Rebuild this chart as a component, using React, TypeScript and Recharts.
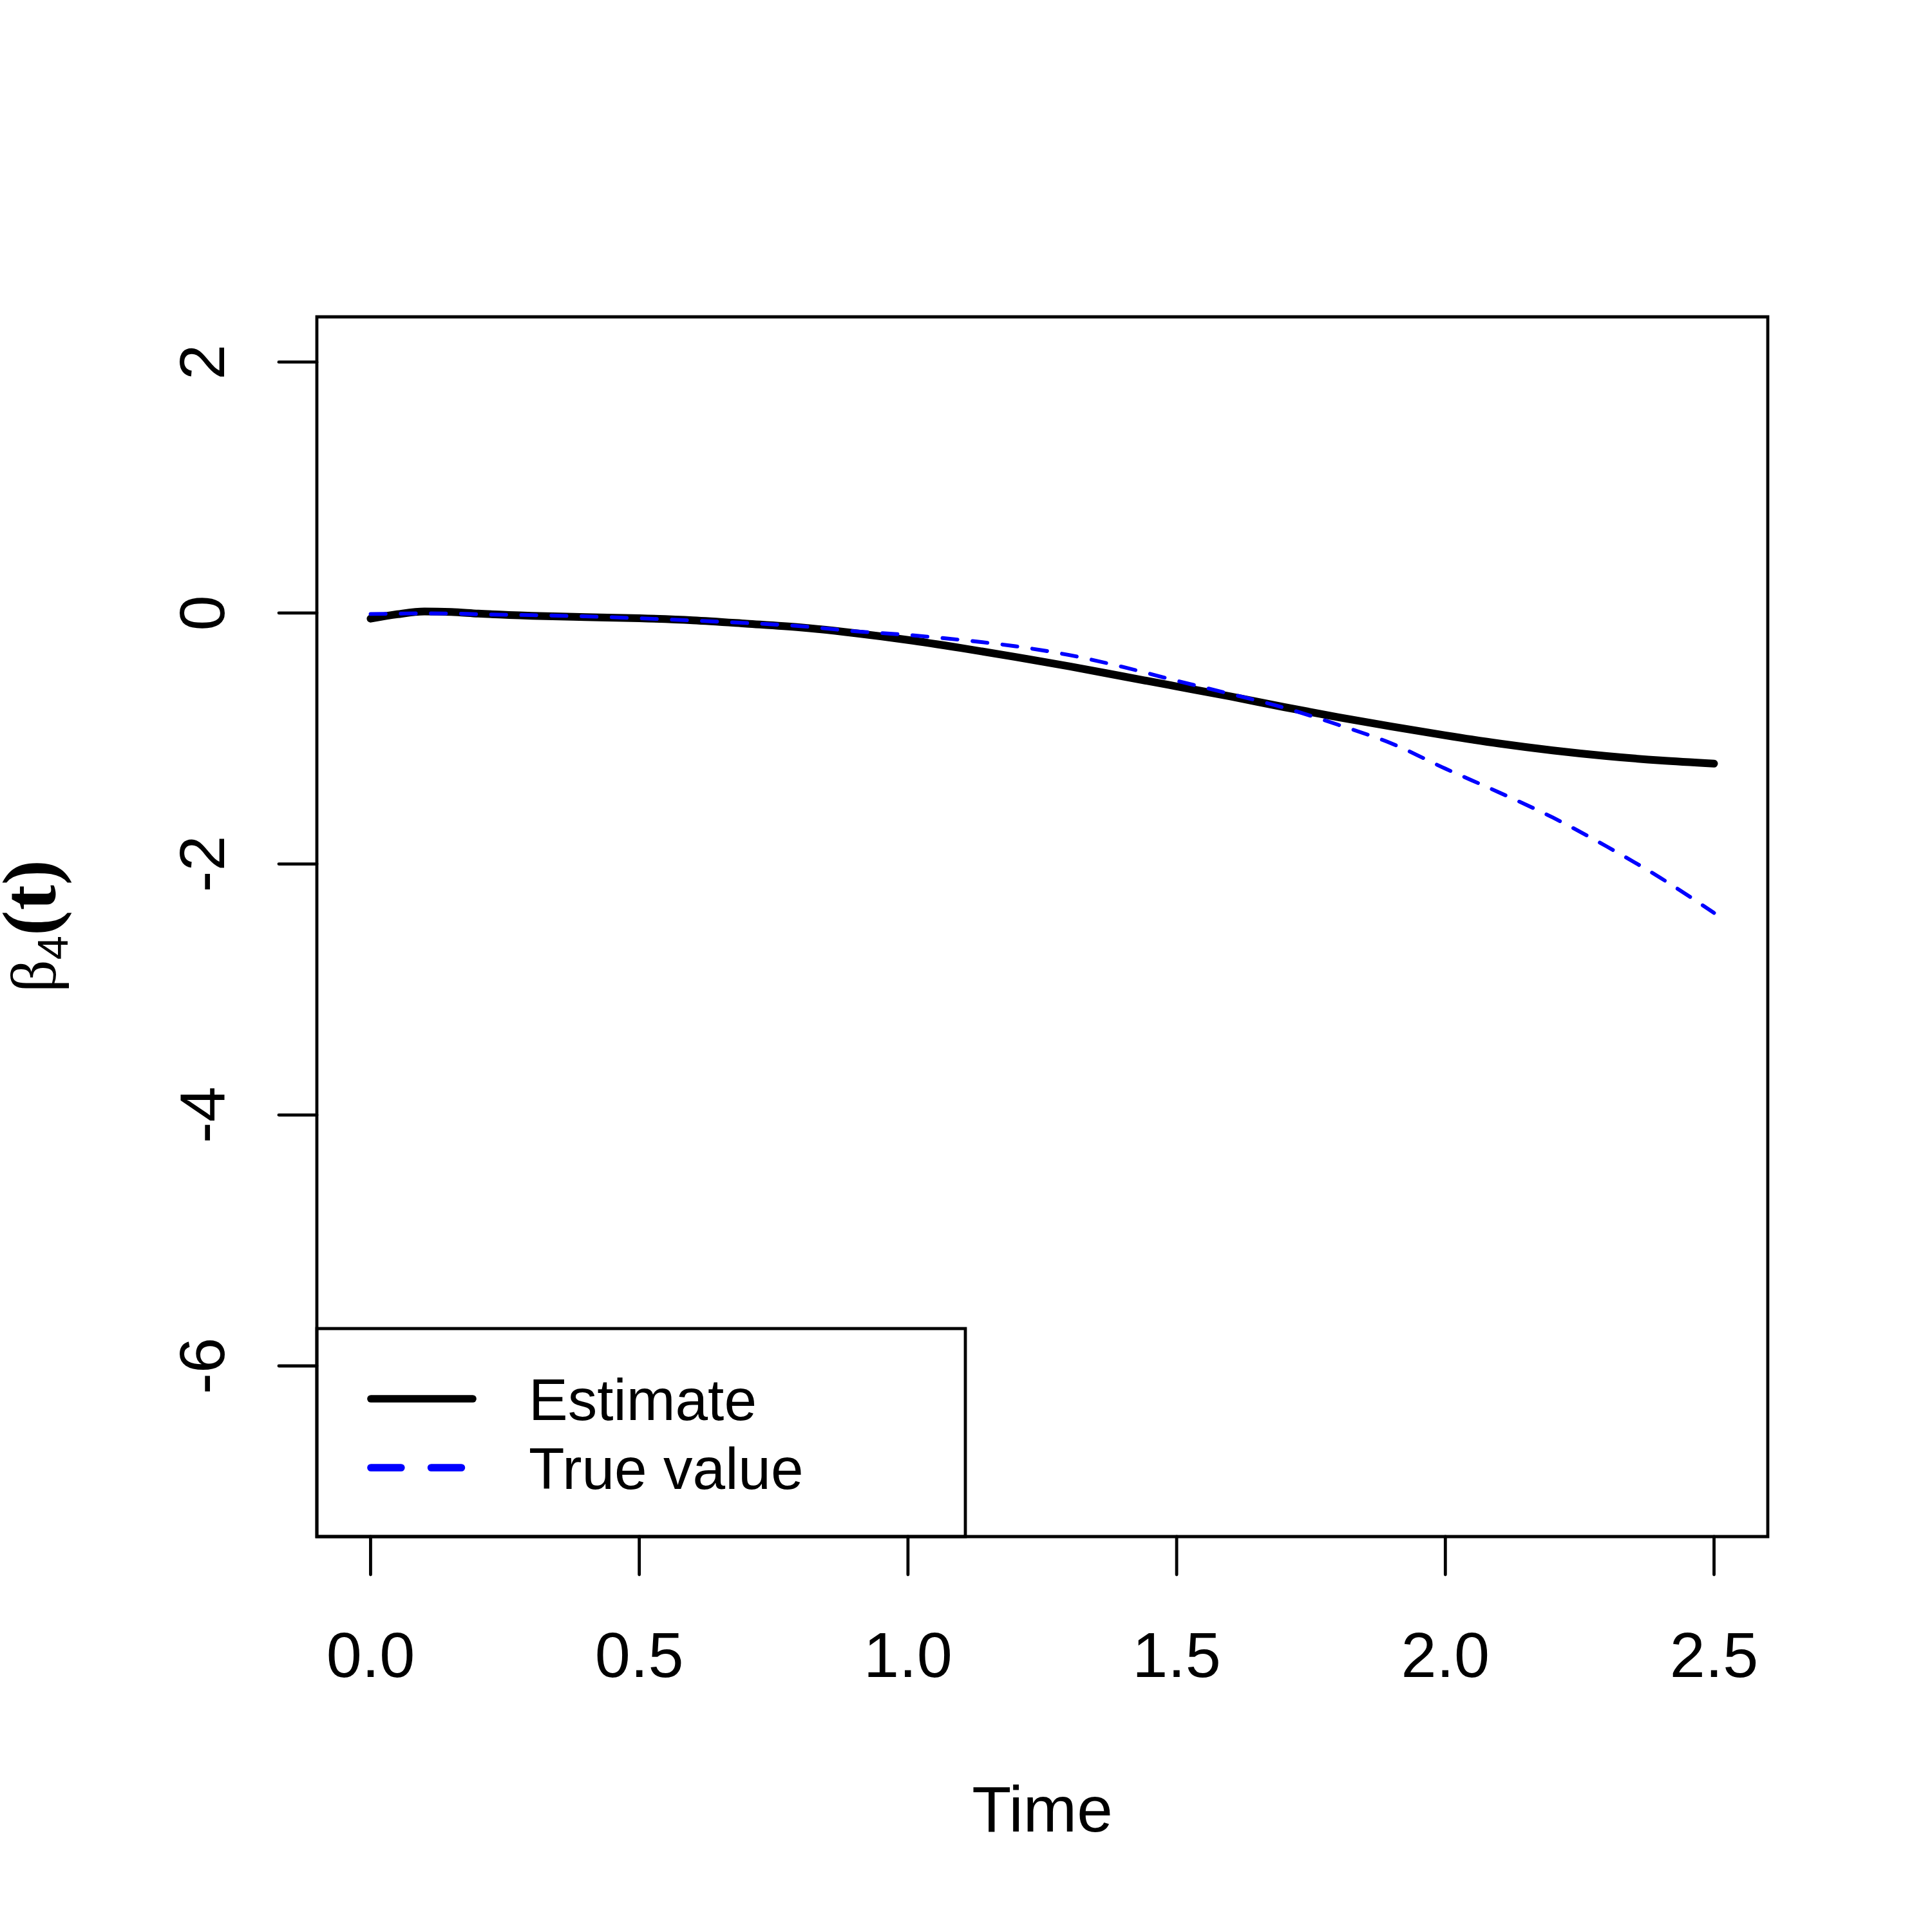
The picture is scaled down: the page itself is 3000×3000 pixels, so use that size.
import { LineChart, Line, XAxis, YAxis, ReferenceArea, Legend } from "recharts"

// values
const times = [0, 0.05, 0.1, 0.15, 0.2, 0.3, 0.4, 0.5, 0.6, 0.7, 0.8, 0.9, 1.0, 1.1, 1.2, 1.3, 1.4, 1.5, 1.6, 1.7, 1.8, 1.9, 2.0, 2.1, 2.2, 2.3, 2.4, 2.5]
const estimate = [-0.045, -0.01, 0.012, 0.008, -0.005, -0.022, -0.033, -0.042, -0.058, -0.085, -0.115, -0.16, -0.215, -0.28, -0.35, -0.425, -0.505, -0.585, -0.665, -0.75, -0.83, -0.905, -0.975, -1.04, -1.095, -1.14, -1.175, -1.2]
const trueValue = [-0.008, -0.005, -0.003, -0.004, -0.01, -0.017, -0.027, -0.042, -0.06, -0.08, -0.105, -0.145, -0.175, -0.215, -0.265, -0.335, -0.43, -0.54, -0.645, -0.755, -0.89, -1.04, -1.24, -1.43, -1.63, -1.86, -2.11, -2.39]

const xTicks = [0, 0.5, 1, 1.5, 2, 2.5]
const yTicks = [-6, -4, -2, 0, 2]

const data = times.map((t, i) => ({ t, estimate: estimate[i], trueValue: trueValue[i] }))

const SANS = "'Liberation Sans', Arial, Helvetica, sans-serif"
const SERIF = "'Liberation Serif', 'Times New Roman', serif"
const LWD = 4.8

function XTick({ x, payload }: any) {
  return (
    <text x={x} y={2604} textAnchor="middle" fontFamily={SANS} fontSize={99} fill="#000">
      {Number(payload.value).toFixed(1)}
    </text>
  )
}

function YTick({ y, payload }: any) {
  return (
    <text
      x={348}
      y={y}
      transform={`rotate(-90 348 ${y})`}
      textAnchor="middle"
      fontFamily={SANS}
      fontSize={99}
      fill="#000"
    >
      {String(payload.value)}
    </text>
  )
}

function TimeLabel({ viewBox }: any) {
  const cx = viewBox ? viewBox.x + viewBox.width / 2 : 1618
  return (
    <text x={cx} y={2844} textAnchor="middle" fontFamily={SANS} fontSize={100} fill="#000">
      Time
    </text>
  )
}

function BetaLabel() {
  return (
    <text x={86} y={1438} transform="rotate(-90 86 1438)" textAnchor="middle" fill="#000">
      <tspan fontFamily={SERIF} fontSize={100}>β</tspan>
      <tspan fontFamily={SANS} fontSize={67} dy={19}>4</tspan>
      <tspan fontFamily={SERIF} fontWeight="bold" fontSize={118} dy={-19}>(t)</tspan>
    </text>
  )
}

function renderLegend(props: any) {
  const items = props.payload ?? []
  return (
    <svg width={1010} height={326} style={{ display: "block", overflow: "visible" }}>
      <rect x={0} y={0} width={1007} height={323} fill="none" stroke="#000" strokeWidth={LWD} />
      {items.map((entry: any, i: number) => {
        const y = 109 + i * 107
        const dashed = entry.dataKey === "trueValue"
        return (
          <g key={entry.value}>
            <line
              x1={84}
              x2={242}
              y1={y}
              y2={y}
              stroke={entry.color}
              strokeWidth={11.7}
              strokeLinecap="round"
              strokeDasharray={dashed ? "46.8 46.8" : undefined}
            />
            <text x={329} y={y + 33} fontFamily={SANS} fontSize={91} fill="#000">
              {entry.value}
            </text>
          </g>
        )
      })}
    </svg>
  )
}

export default function App() {
  return (
    <div style={{ position: "absolute", left: 0, top: 0, width: 3000, height: 3000, background: "#fff" }}>
      <LineChart width={3000} height={3000} data={data} margin={{ top: 492, right: 255, bottom: 554, left: 432 }}>
        <XAxis
          dataKey="t"
          type="number"
          domain={[-0.1, 2.6]}
          allowDataOverflow
          ticks={xTicks}
          interval={0}
          height={60}
          axisLine={false}
          tickSize={59}
          tickLine={{ stroke: "#000", strokeWidth: LWD, strokeLinecap: "round" }}
          tick={<XTick />}
          label={{ content: <TimeLabel /> }}
        />
        <YAxis
          type="number"
          domain={[-7.36, 2.36]}
          allowDataOverflow
          ticks={yTicks}
          interval={0}
          width={60}
          axisLine={false}
          tickSize={59}
          tickLine={{ stroke: "#000", strokeWidth: LWD, strokeLinecap: "round" }}
          tick={<YTick />}
          label={{ content: <BetaLabel /> }}
        />
        <ReferenceArea x1={-0.1} x2={2.6} y1={-7.36} y2={2.36} fill="none" stroke="#000" strokeWidth={LWD} />
        <Line
          dataKey="estimate"
          name="Estimate"
          type="monotone"
          stroke="#000000"
          strokeWidth={12}
          strokeLinecap="round"
          strokeLinejoin="round"
          dot={false}
          activeDot={false}
          isAnimationActive={false}
        />
        <Line
          dataKey="trueValue"
          name="True value"
          type="monotone"
          stroke="#0000ff"
          strokeWidth={5.85}
          strokeDasharray="23.4 23.4"
          strokeLinecap="round"
          dot={false}
          activeDot={false}
          isAnimationActive={false}
        />
        <Legend
          layout="vertical"
          align="center"
          verticalAlign="middle"
          content={renderLegend}
          wrapperStyle={{ left: 492, top: 2063, width: 1010, height: 326, margin: 0, padding: 0 }}
        />
      </LineChart>
    </div>
  )
}
